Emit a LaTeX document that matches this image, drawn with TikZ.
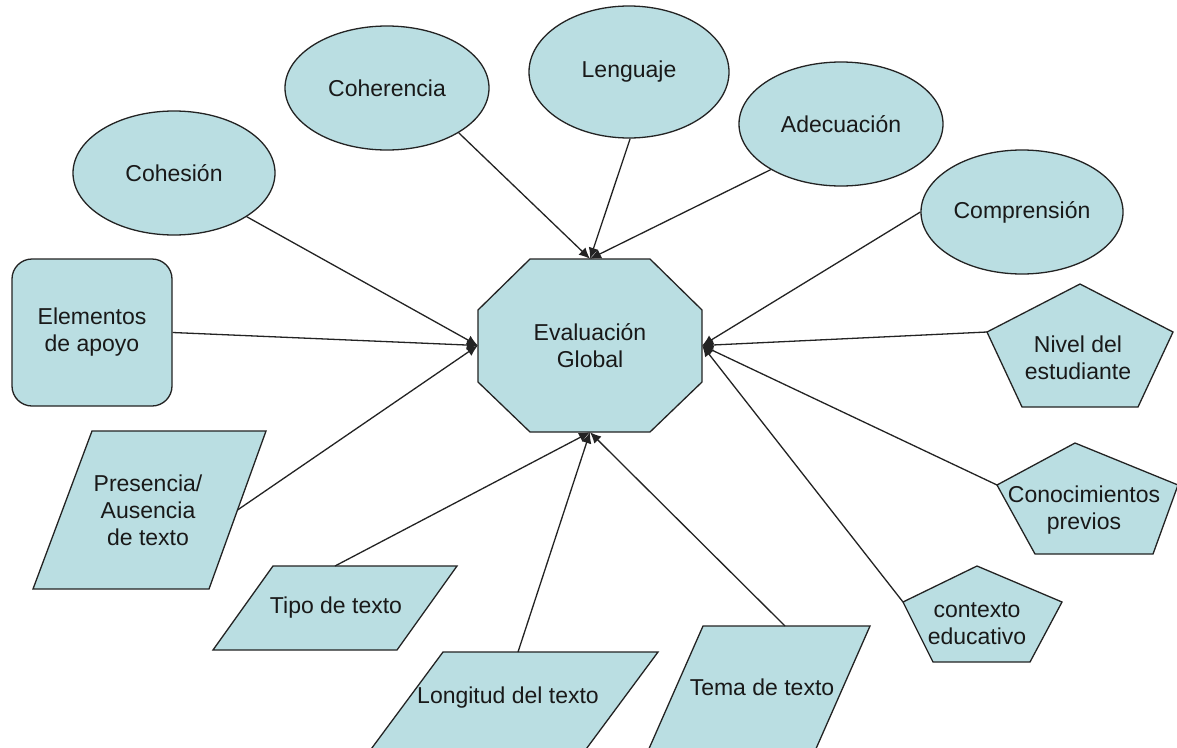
\documentclass[tikz,border=0pt]{standalone}
\usepackage{fontspec}
\setmainfont{Liberation Sans}
\usetikzlibrary{shapes.geometric,arrows.meta}
\definecolor{fillc}{RGB}{186,222,226}
\definecolor{linec}{RGB}{35,35,35}
\definecolor{textc}{RGB}{25,25,25}
\begin{document}
\begin{tikzpicture}[x=1pt,y=-1pt,
  shp/.style={draw=linec, line width=1.3pt, fill=fillc},
  ell/.style={shp, ellipse, inner sep=0pt},
  txt/.style={align=center, font=\fontsize{23}{27}\selectfont, text=textc},
  conn/.style={draw=linec, line width=1.3pt, -{Latex[length=11pt,width=10pt]}},
]
\useasboundingbox (0,0) rectangle (1177,747);
\clip (0,0) rectangle (1177,747);
\fill[white] (0,0) rectangle (1177,747);

% central octagon
\draw[shp] (530,259) -- (650,259) -- (702,310) -- (702,382) -- (650,432) -- (530,432) -- (478,382) -- (478,310) -- cycle;
\node[txt, minimum width=224, minimum height=173, inner sep=0pt] (eval) at (590,345.5) {Evaluación\\Global};

% ellipses
\node[ell, txt, minimum width=202, minimum height=124] (coh) at (174,173) {Cohesión};
\node[ell, txt, minimum width=204, minimum height=124] (coh2) at (387,88) {Coherencia};
\node[ell, txt, minimum width=200, minimum height=132] (len) at (629,72) {Lenguaje};
\node[ell, txt, minimum width=204, minimum height=124] (ade) at (841,124) {Adecuación};
\node[ell, txt, minimum width=202, minimum height=124] (comp) at (1022,212) {Comprensión};

% rounded box
\node[shp, txt, rounded corners=20pt, minimum width=160, minimum height=147, inner sep=0pt] (elem) at (92,332.5) {Elementos\\de apoyo};

% parallelograms
\draw[shp] (92,431) -- (266,431) -- (209,589) -- (33,589) -- cycle;
\node[txt] (pres) at (148,510) {Presencia/\\Ausencia\\de texto};
\coordinate (presR) at (237.5,510);

\draw[shp] (273,566) -- (457,566) -- (397,650) -- (213,650) -- cycle;
\node[txt] (tipo) at (336,608) {Tipo de texto};
\coordinate (tipoT) at (335,566);

\draw[shp] (443,652) -- (658,652) -- (578,760) -- (363,760) -- cycle;
\node[txt] (long) at (508,698) {Longitud del texto};
\coordinate (longT) at (518,652);

\draw[shp] (703,626) -- (870,626) -- (811,760) -- (644,760) -- cycle;
\node[txt] (tema) at (762,687) {Tema de texto};
\coordinate (temaT) at (785,626);

% pentagons
\draw[shp] (1080,284) -- (1173,332) -- (1138,407) -- (1022,407) -- (987,332) -- cycle;
\node[txt] (nivel) at (1078,358) {Nivel del\\estudiante};
\coordinate (nivelL) at (987,332);

\draw[shp] (1075,443) -- (1178,485) -- (1153,554) -- (1035,554) -- (997,485) -- cycle;
\node[txt] (conoc) at (1084,510) {Conocimientos\\previos};
\coordinate (conocL) at (997,485);

\draw[shp] (977,566) -- (1062,602) -- (1030,662) -- (933,662) -- (903,602) -- cycle;
\node[txt] (ctx) at (977,624) {contexto\\educativo};
\coordinate (ctxL) at (903,602);

% connectors
\draw[conn] (coh.-31) -- (eval.west);
\draw[conn] (elem.east) -- (eval.west);
\draw[conn] (presR) -- (eval.west);
\draw[conn] (coh2.-32) -- (eval.north);
\draw[conn] (len.-89) -- (eval.north);
\draw[conn] (ade.-147) -- (eval.north);
\draw[conn] (comp.west) -- (eval.east);
\draw[conn] (nivelL) -- (eval.east);
\draw[conn] (conocL) -- (eval.east);
\draw[conn] (ctxL) -- (eval.east);
\draw[conn] (tipoT) -- (eval.south);
\draw[conn] (longT) -- (eval.south);
\draw[conn] (temaT) -- (eval.south);
\end{tikzpicture}
\end{document}
